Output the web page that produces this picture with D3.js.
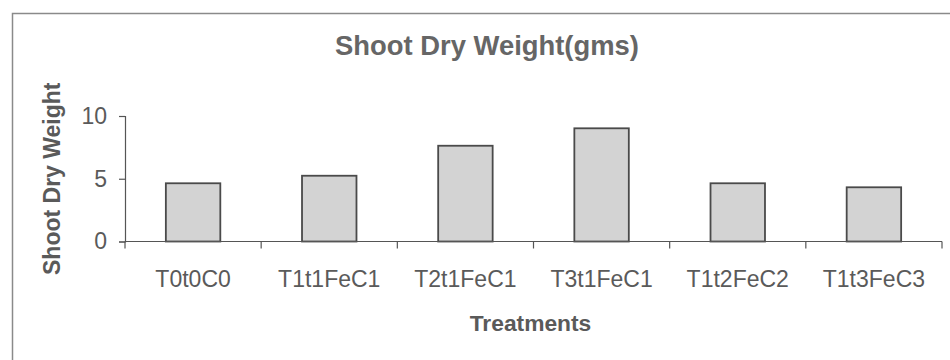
<!DOCTYPE html>
<html>
<head>
<meta charset="utf-8">
<script src="https://cdn.jsdelivr.net/npm/d3@7"></script>
<style>
  html, body { margin: 0; padding: 0; background: #fff; }
  svg { display: block; }
  text { font-family: "Liberation Sans", Arial, sans-serif; }
</style>
</head>
<body>
<svg id="chart" width="950" height="360"></svg>
<script>
const categories = ["T0t0C0", "T1t1FeC1", "T2t1FeC1", "T3t1FeC1", "T1t2FeC2", "T1t3FeC3"];
const values = [4.64, 5.24, 7.63, 9.02, 4.64, 4.32];
const yTicks = [0, 5, 10];
const titleText = "Shoot Dry Weight(gms)";
const xTitle = "Treatments";
const yTitle = "Shoot Dry Weight";

const svg = d3.select("#chart");
const plotLeft = 125, plotRight = 942, plotTop = 116, plotBottom = 241.5;

// outer chart border (extends beyond the visible area on right and bottom)
svg.append("rect")
  .attr("x", 12.5).attr("y", 13.5)
  .attr("width", 960).attr("height", 380)
  .attr("fill", "#fff").attr("stroke", "#8a8a8a").attr("stroke-width", 1.5);

const x = d3.scaleBand().domain(categories).range([plotLeft, plotRight])
  .paddingInner(0.6).paddingOuter(0.3);
const y = d3.scaleLinear().domain([0, 10]).range([plotBottom, plotTop]);

// bars
svg.append("g").selectAll("rect").data(values).join("rect")
  .attr("x", (d, i) => x(categories[i]))
  .attr("y", d => y(d))
  .attr("width", x.bandwidth())
  .attr("height", d => y(0) - y(d))
  .attr("fill", "#d3d3d3")
  .attr("stroke", "#4a4a4a")
  .attr("stroke-width", 1.8);

// y axis
const yAxis = svg.append("g").attr("transform", `translate(${plotLeft},0)`)
  .call(d3.axisLeft(y).tickValues(yTicks).tickSize(6).tickPadding(12).tickFormat(d3.format("d")));
yAxis.select(".domain").attr("stroke", "#555").attr("stroke-width", 1.2);
yAxis.selectAll(".tick line").attr("stroke", "#555").attr("stroke-width", 1.2);
yAxis.selectAll(".tick text")
  .attr("fill", "#5a5a5a").style("font-size", "23px")
  .style("font-family", "'Liberation Sans', Arial, sans-serif");

// x axis line
const xAxisG = svg.append("g");
xAxisG.append("line")
  .attr("x1", plotLeft).attr("x2", plotRight)
  .attr("y1", y(0)).attr("y2", y(0))
  .attr("stroke", "#555").attr("stroke-width", 1.2);

// boundary ticks between categories
const step = x.step();
const bounds = categories.map(c => x(c) - step * x.paddingOuter());
bounds.push(x(categories[categories.length - 1]) + x.bandwidth() + step * x.paddingOuter());
xAxisG.selectAll("line.tk").data(bounds).join("line")
  .attr("class", "tk")
  .attr("x1", d => d).attr("x2", d => d)
  .attr("y1", y(0)).attr("y2", y(0) + 7)
  .attr("stroke", "#555").attr("stroke-width", 1.2);

// category labels
xAxisG.selectAll("text").data(categories).join("text")
  .attr("x", c => x(c) + x.bandwidth() / 2)
  .attr("y", y(0) + 45)
  .attr("text-anchor", "middle")
  .attr("fill", "#5a5a5a")
  .style("font-size", "23px")
  .text(c => c);

// title
svg.append("text")
  .attr("x", 487).attr("y", 55)
  .attr("text-anchor", "middle")
  .attr("fill", "#666")
  .style("font-size", "27.4px").style("font-weight", "bold")
  .text(titleText);

// x axis title
svg.append("text")
  .attr("x", (plotLeft + plotRight) / 2 - 3).attr("y", 331)
  .attr("text-anchor", "middle")
  .attr("fill", "#5a5a5a")
  .style("font-size", "22.8px").style("font-weight", "bold")
  .text(xTitle);

// y axis title
svg.append("text")
  .attr("transform", `translate(60,${(plotTop + plotBottom) / 2}) rotate(-90)`)
  .attr("text-anchor", "middle")
  .attr("fill", "#5a5a5a")
  .style("font-size", "23px").style("font-weight", "bold")
  .text(yTitle);
</script>
</body>
</html>
